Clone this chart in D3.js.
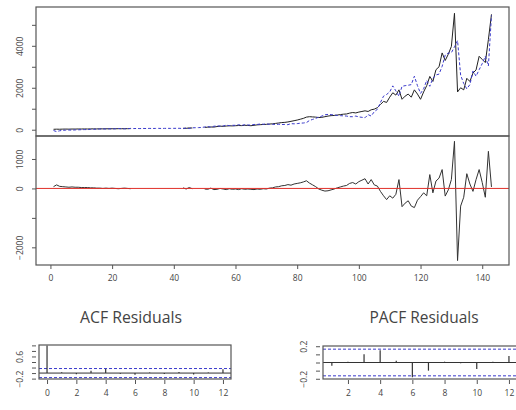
<!DOCTYPE html>
<html>
<head>
<meta charset="utf-8">
<title>Residual diagnostics</title>
<script src="https://cdn.jsdelivr.net/npm/d3@7"></script>
<style>
  body { margin: 0; background: #fff; }
  text { font-family: "Open Sans", sans-serif; fill: #444; }
</style>
</head>
<body>
<svg id="chart" width="516" height="410"></svg>
<script>
// observed series (black), fitted (blue dashed), residuals (lower panel)
const actual = [
  20, 25, 22, 28, 30, 27, 32, 30, 35, 33,
  36, 34, 38, 40, 37, 42, 40, 44, 43, 46,
  45, 48, 47, 50, 49, 52,
  null, null, null, null, null, null, null, null, null, null, null, null, null, null, null, null,
  70, 65, 85, 80,
  null, null, null,
  110, 120, 130, 125, 150, 170, 160, 175, 185, 180, 190,
  200, 195, 210, 205, 190, 210, 230, 240, 250, 255,
  270, 280, 300, 320, 340, 350, 370, 400, 430, 460,
  500, 540, 600, 620, 610, 600, 580, 590, 620, 650,
  670, 680, 700, 720, 740, 750, 790, 820, 800, 840,
  870, 900, 870, 950, 980, 1050, 1200, 1350, 1300, 1550,
  1760, 1650, 1900, 1450, 1600, 1700, 1550, 1900, 1700, 1450,
  1800, 2100, 2540, 2300, 2860, 3000, 3660, 3300, 3600, 3970,
  5550, 1800, 2000, 1900, 2450, 2300, 2700, 2850, 3500, 3350, 3200, 4300, 5500
];
const fitted = [
  -40, -90, -50, -30, -20, -15, -20, -10, -5, 0,
  6, 4, 18, 20, 27, 32, 40, 34, 43, 36,
  45, 58, 47, 40, 49, 62,
  55, 58, 54, 60, 57, 62, 59, 61, 64, 60, 63, 66, 62, 65, 68, 66,
  50, 85, 55, 90,
  95, 100, 105,
  130, 150, 120, 165, 180, 170, 180, 215, 195, 210, 210,
  240, 205, 240, 225, 220, 250, 250, 270, 260, 275,
  260, 260, 250, 260, 250, 250, 240, 290, 280, 290,
  310, 320, 340, 440, 490, 540, 600, 650, 710, 730,
  720, 700, 680, 670, 660, 650, 620, 620, 650, 610,
  590, 570, 720, 650, 860, 970, 1300, 1600, 1680, 1800,
  2090, 1850, 1600, 2070, 2100, 2120, 2150, 2550, 2100, 1730,
  1950, 2350, 2070, 2450, 2610, 2650, 3020, 3560, 3650, 3670,
  3950, 4250, 2600, 2200, 1950, 2150, 2800, 2550, 2860, 3150, 3500, 3040, 5450
];
const residuals = [
  60, 120, 70, 60, 50, 40, 50, 40, 40, 30,
  30, 30, 20, 20, 10, 10, 0, 10, 0, 10,
  0, -10, 0, 10, 0, -10,
  null, null, null, null, null, null, null, null, null, null, null, null, null, null, null, null,
  20, -20, 30, -10,
  null, null, null,
  -20, -30, 10, -40, -30, 0, -20, -40, -10, -30, -20,
  -40, -10, -30, -20, -30, -40, -20, -30, -10, -20,
  10, 20, 50, 60, 90, 100, 130, 110, 150, 170,
  190, 220, 260, 180, 120, 60, -20, -60, -90, -80,
  -50, -20, 20, 50, 80, 100, 170, 200, 150, 230,
  280, 330, 150, 300, 120, 80, -100, -250, -380, -250,
  -330, -200, 300, -620, -500, -420, -600, -650, -400, -280,
  -150, -250, 470, -150, 250, 350, 640, -260, -50, 300,
  1600, -2450, -600, -300, 500, 150, -100, 300, 640, 200, -300, 1260, 50
];
const time = d3.range(1, actual.length + 1);

const topTicks = [0, 1000, 2000, 3000, 4000, 5000];
const topLabels = [0, 2000, 4000];
const resTicks = [-2000, -1000, 0, 1000];
const resLabels = [-2000, 0, 1000];
const timeTicks = [0, 20, 40, 60, 80, 100, 120, 140];

const acfLags = d3.range(0, 13);
const acfVals = [1, 0.03, -0.04, 0.08, 0.15, -0.02, -0.06, 0.02, -0.03, 0.04, -0.05, 0.02, 0.14];
const acfTicks = [-0.2, 0, 0.2, 0.4, 0.6, 0.8, 1.0];
const acfLabels = [-0.2, 0.6];
const pacfLags = d3.range(1, 13);
const pacfVals = [-0.04, 0.01, 0.1, 0.15, 0.02, -0.18, -0.1, 0.01, -0.01, -0.08, 0.01, 0.08];
const pacfTicks = [-0.2, -0.1, 0, 0.1, 0.2];
const pacfLabels = [-0.2, 0.2];
const lagTicksAcf = [0, 2, 4, 6, 8, 10, 12];
const lagTicksPacf = [2, 4, 6, 8, 10, 12];
const ci = 1.96 / Math.sqrt(actual.length);

const svg = d3.select("#chart");
const BOX = "#555";

// scales
const x = d3.scaleLinear().domain([-4.68, 148.68]).range([36, 509]);
const yTop = d3.scaleLinear().domain([-300, 5850]).range([136, 7]);
const yRes = d3.scaleLinear().domain([-2600, 1780]).range([265, 136]);

function yAxis(g, scale, ticks, labels, tx) {
  g.call(d3.axisLeft(scale).tickValues(ticks).tickSize(4)
      .tickFormat(d => labels.includes(d) ? d3.format("")(d) : ""));
  g.select(".domain").remove();
  g.selectAll("line").attr("stroke", BOX);
  g.selectAll("text")
    .attr("x", 0).attr("dy", 0)
    .attr("text-anchor", "middle")
    .attr("transform", "translate(" + tx + ",0) rotate(-90)")
    .style("font-size", "8.5px")
    .style("font-family", "'Open Sans', sans-serif")
    .attr("fill", "#555");
}
function xAxis(g, scale, ticks) {
  g.call(d3.axisBottom(scale).tickValues(ticks).tickSize(4).tickPadding(6));
  g.select(".domain").remove();
  g.selectAll("line").attr("stroke", BOX);
  g.selectAll("text")
    .style("font-size", "8.5px")
    .style("font-family", "'Open Sans', sans-serif")
    .attr("fill", "#555");
}
function box(x0, y0, x1, y1) {
  svg.append("rect").attr("x", x0).attr("y", y0)
    .attr("width", x1 - x0).attr("height", y1 - y0)
    .attr("fill", "none").attr("stroke", BOX).attr("stroke-width", 1.2);
}

// top panel: observed and fitted
const line = (ys, yScale) => d3.line()
  .defined((d, i) => ys[i] != null)
  .x((d, i) => x(time[i]))
  .y((d, i) => yScale(ys[i]));

svg.append("path").datum(time)
  .attr("fill", "none").attr("stroke", "#222").attr("stroke-width", 1)
  .attr("d", line(actual, yTop));
svg.append("path").datum(time)
  .attr("fill", "none").attr("stroke", "#3a3acc").attr("stroke-width", 1)
  .attr("stroke-dasharray", "3,2")
  .attr("d", line(fitted, yTop));

// lower panel: residuals
svg.append("path").datum(time)
  .attr("fill", "none").attr("stroke", "#333").attr("stroke-width", 1)
  .attr("d", line(residuals, yRes));
svg.append("line")
  .attr("x1", 36).attr("x2", 509)
  .attr("y1", yRes(0)).attr("y2", yRes(0))
  .attr("stroke", "#e0302a").attr("stroke-width", 1);

box(36, 7, 509, 136);
box(36, 136, 509, 265);

yAxis(svg.append("g").attr("transform", "translate(36,0)"), yTop, topTicks, topLabels, -13);
yAxis(svg.append("g").attr("transform", "translate(36,0)"), yRes, resTicks, resLabels, -13);
xAxis(svg.append("g").attr("transform", "translate(0,265)"), x, timeTicks);

// correlogram titles
svg.append("text").attr("x", 131).attr("y", 323)
  .attr("text-anchor", "middle").attr("textLength", 102).attr("lengthAdjust", "spacingAndGlyphs")
  .style("font-size", "16px").attr("fill", "#222").text("ACF Residuals");
svg.append("text").attr("x", 424).attr("y", 323)
  .attr("text-anchor", "middle").attr("textLength", 109).attr("lengthAdjust", "spacingAndGlyphs")
  .style("font-size", "16px").attr("fill", "#222").text("PACF Residuals");

function correlogram(lags, vals, xs, ys, ticksY, labelsY, ticksX, frame) {
  // confidence bounds
  [ci, -ci].forEach(v => {
    svg.append("line").attr("x1", frame[0]).attr("x2", frame[2])
      .attr("y1", ys(v)).attr("y2", ys(v))
      .attr("stroke", "#3a3acc").attr("stroke-width", 1).attr("stroke-dasharray", "3,2");
  });
  svg.append("line").attr("x1", frame[0]).attr("x2", frame[2])
    .attr("y1", ys(0)).attr("y2", ys(0))
    .attr("stroke", "#333").attr("stroke-width", 1);
  svg.append("g").selectAll("line").data(lags).join("line")
    .attr("x1", d => xs(d)).attr("x2", d => xs(d))
    .attr("y1", ys(0)).attr("y2", (d, i) => ys(vals[i]))
    .attr("stroke", "#333").attr("stroke-width", 1.2);
  box(frame[0], frame[1], frame[2], frame[3]);
  yAxis(svg.append("g").attr("transform", "translate(" + (frame[0] - 3) + ",0)"), ys, ticksY, labelsY, -13);
  xAxis(svg.append("g").attr("transform", "translate(0," + (frame[3] + 1) + ")"), xs, ticksX);
}

const xAcf = d3.scaleLinear().domain([-0.48, 12.48]).range([40, 230]);
const yAcf = d3.scaleLinear().domain([-0.25, 1.05]).range([380, 344]);
correlogram(acfLags, acfVals, xAcf, yAcf, acfTicks, acfLabels, lagTicksAcf, [39, 345, 231, 379]);

const xPacf = d3.scaleLinear().domain([0.45, 12.5]).range([323, 517]);
const yPacf = d3.scaleLinear().domain([-0.215, 0.215]).range([380, 345]);
correlogram(pacfLags, pacfVals, xPacf, yPacf, pacfTicks, pacfLabels, lagTicksPacf, [323, 346, 517, 379]);
</script>
</body>
</html>
